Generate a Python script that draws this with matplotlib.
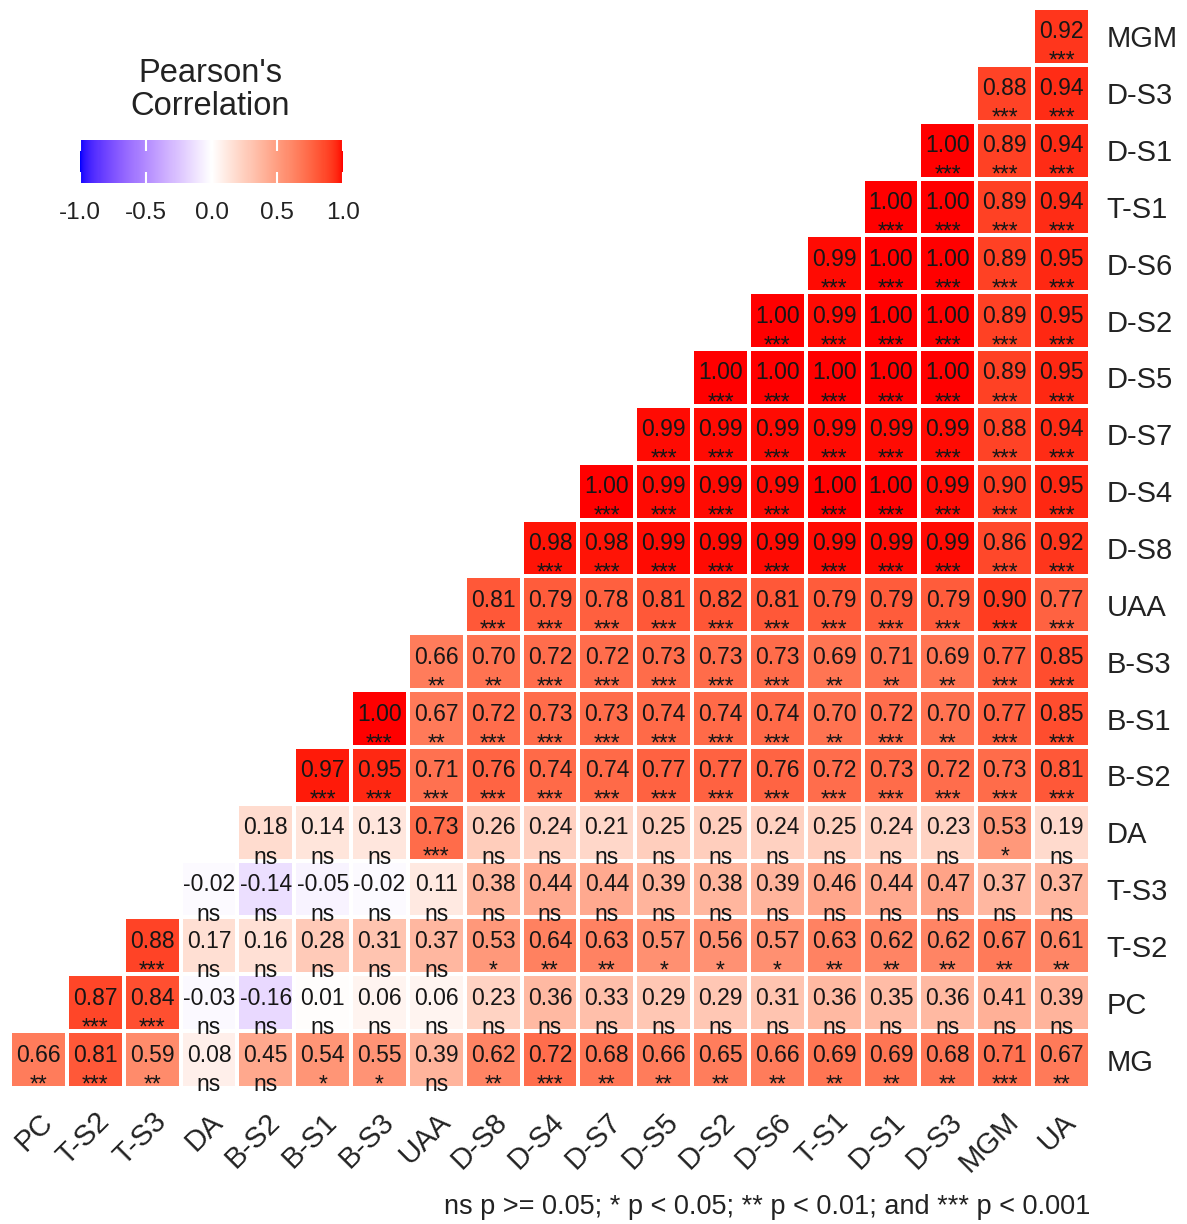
import numpy as np
import matplotlib
matplotlib.use("Agg")
import matplotlib.pyplot as plt
from matplotlib.colors import ListedColormap, Normalize
from matplotlib.cm import ScalarMappable

plt.rcParams['font.family'] = ['Liberation Sans', 'DejaVu Sans']

# ---------------- data ----------------
col_vars = ["PC", "T-S2", "T-S3", "DA", "B-S2", "B-S1", "B-S3", "UAA", "D-S8", "D-S4",
            "D-S7", "D-S5", "D-S2", "D-S6", "T-S1", "D-S1", "D-S3", "MGM", "UA"]
row_vars = ["MG", "PC", "T-S2", "T-S3", "DA", "B-S2", "B-S1", "B-S3", "UAA", "D-S8",
            "D-S4", "D-S7", "D-S5", "D-S2", "D-S6", "T-S1", "D-S1", "D-S3", "MGM"]

# correlation values per row (row k starts at column k)
r_MG = [0.66, 0.81, 0.59, 0.08, 0.45, 0.54, 0.55, 0.39, 0.62, 0.72, 0.68, 0.66, 0.65, 0.66, 0.69, 0.69, 0.68, 0.71, 0.67]
r_PC = [0.87, 0.84, -0.03, -0.16, 0.01, 0.06, 0.06, 0.23, 0.36, 0.33, 0.29, 0.29, 0.31, 0.36, 0.35, 0.36, 0.41, 0.39]
r_TS2 = [0.88, 0.17, 0.16, 0.28, 0.31, 0.37, 0.53, 0.64, 0.63, 0.57, 0.56, 0.57, 0.63, 0.62, 0.62, 0.67, 0.61]
r_TS3 = [-0.02, -0.14, -0.05, -0.02, 0.11, 0.38, 0.44, 0.44, 0.39, 0.38, 0.39, 0.46, 0.44, 0.47, 0.37, 0.37]
r_DA = [0.18, 0.14, 0.13, 0.73, 0.26, 0.24, 0.21, 0.25, 0.25, 0.24, 0.25, 0.24, 0.23, 0.53, 0.19]
r_BS2 = [0.97, 0.95, 0.71, 0.76, 0.74, 0.74, 0.77, 0.77, 0.76, 0.72, 0.73, 0.72, 0.73, 0.81]
r_BS1 = [1.00, 0.67, 0.72, 0.73, 0.73, 0.74, 0.74, 0.74, 0.70, 0.72, 0.70, 0.77, 0.85]
r_BS3 = [0.66, 0.70, 0.72, 0.72, 0.73, 0.73, 0.73, 0.69, 0.71, 0.69, 0.77, 0.85]
r_UAA = [0.81, 0.79, 0.78, 0.81, 0.82, 0.81, 0.79, 0.79, 0.79, 0.90, 0.77]
r_DS8 = [0.98, 0.98, 0.99, 0.99, 0.99, 0.99, 0.99, 0.99, 0.86, 0.92]
r_DS4 = [1.00, 0.99, 0.99, 0.99, 1.00, 1.00, 0.99, 0.90, 0.95]
r_DS7 = [0.99, 0.99, 0.99, 0.99, 0.99, 0.99, 0.88, 0.94]
r_DS5 = [1.00, 1.00, 1.00, 1.00, 1.00, 0.89, 0.95]
r_DS2 = [1.00, 0.99, 1.00, 1.00, 0.89, 0.95]
r_DS6 = [0.99, 1.00, 1.00, 0.89, 0.95]
r_TS1 = [1.00, 1.00, 0.89, 0.94]
r_DS1 = [1.00, 0.89, 0.94]
r_DS3 = [0.88, 0.94]
r_MGM = [0.92]

# significance labels per row
s_MG = ["**", "***", "**", "ns", "ns", "*", "*", "ns", "**", "***", "**", "**", "**", "**", "**", "**", "**", "***", "**"]
s_PC = ["***", "***"] + ["ns"] * 16
s_TS2 = ["***", "ns", "ns", "ns", "ns", "ns", "*", "**", "**", "*", "*", "*", "**", "**", "**", "**", "**"]
s_TS3 = ["ns"] * 16
s_DA = ["ns", "ns", "ns", "***", "ns", "ns", "ns", "ns", "ns", "ns", "ns", "ns", "ns", "*", "ns"]
s_BS2 = ["***"] * 14
s_BS1 = ["***", "**", "***", "***", "***", "***", "***", "***", "**", "***", "**", "***", "***"]
s_BS3 = ["**", "**", "***", "***", "***", "***", "***", "**", "**", "**", "***", "***"]
s_UAA = ["***"] * 11
s_DS8 = ["***"] * 10
s_DS4 = ["***"] * 9
s_DS7 = ["***"] * 8
s_DS5 = ["***"] * 7
s_DS2 = ["***"] * 6
s_DS6 = ["***"] * 5
s_TS1 = ["***"] * 4
s_DS1 = ["***"] * 3
s_DS3 = ["***"] * 2
s_MGM = ["***"]

r_rows = [r_MG, r_PC, r_TS2, r_TS3, r_DA, r_BS2, r_BS1, r_BS3, r_UAA, r_DS8,
          r_DS4, r_DS7, r_DS5, r_DS2, r_DS6, r_TS1, r_DS1, r_DS3, r_MGM]
s_rows = [s_MG, s_PC, s_TS2, s_TS3, s_DA, s_BS2, s_BS1, s_BS3, s_UAA, s_DS8,
          s_DS4, s_DS7, s_DS5, s_DS2, s_DS6, s_TS1, s_DS1, s_DS3, s_MGM]

caption = "ns p >= 0.05; * p < 0.05; ** p < 0.01; and *** p < 0.001"

# ---------------- colormap (Lab interpolation like ggplot2 gradient2) ----------------
def srgb_to_lab(c):
    c = np.asarray(c, float)
    lin = np.where(c <= 0.04045, c / 12.92, ((c + 0.055) / 1.055) ** 2.4)
    M = np.array([[0.4124564, 0.3575761, 0.1804375],
                  [0.2126729, 0.7151522, 0.0721750],
                  [0.0193339, 0.1191920, 0.9503041]])
    xyz = M @ lin
    wp = np.array([0.95047, 1.0, 1.08883])
    t = xyz / wp
    f = np.where(t > (6 / 29) ** 3, np.cbrt(t), t / (3 * (6 / 29) ** 2) + 4 / 29)
    return np.array([116 * f[1] - 16, 500 * (f[0] - f[1]), 200 * (f[1] - f[2])])

def lab_to_srgb(lab):
    L, a, b = lab
    fy = (L + 16) / 116
    fx = fy + a / 500
    fz = fy - b / 200
    d = 6 / 29
    def finv(f):
        return np.where(f > d, f ** 3, 3 * d * d * (f - 4 / 29))
    wp = np.array([0.95047, 1.0, 1.08883])
    xyz = np.array([finv(fx), finv(fy), finv(fz)]) * wp
    Minv = np.array([[3.2404542, -1.5371385, -0.4985314],
                     [-0.9692660, 1.8760108, 0.0415560],
                     [0.0556434, -0.2040259, 1.0572252]])
    lin = Minv @ xyz
    lin = np.clip(lin, 0, 1)
    c = np.where(lin <= 0.0031308, 12.92 * lin, 1.055 * lin ** (1 / 2.4) - 0.055)
    return np.clip(c, 0, 1)

lab_blue = srgb_to_lab([0, 0, 1])
lab_white = srgb_to_lab([1, 1, 1])
lab_red = srgb_to_lab([1, 0, 0])
cols = []
for t in np.linspace(-1, 1, 256):
    if t < 0:
        lab = lab_white + (lab_blue - lab_white) * (-t)
    else:
        lab = lab_white + (lab_red - lab_white) * t
    cols.append(lab_to_srgb(lab))
cmap = ListedColormap(cols)
cmap.set_bad((1, 1, 1, 0))
norm = Normalize(vmin=-1, vmax=1)

# ---------------- figure ----------------
W, H = 1187, 1224
fig = plt.figure(figsize=(W / 100, H / 100), dpi=100)
ax = fig.add_axes([10 / W, 1 - 1088 / H, 1080 / W, 1080 / H])

n = len(col_vars)
mat = np.full((len(row_vars), n), np.nan)
for k, vals in enumerate(r_rows):
    for j, v in enumerate(vals):
        mat[k, k + j] = v
masked = np.ma.masked_invalid(mat)

xe = np.arange(n + 1) - 0.5
ye = np.arange(len(row_vars) + 1) - 0.5
ax.pcolormesh(xe, ye, masked, cmap=cmap, norm=norm, edgecolors='white', linewidth=1.5)

txt_col = '#161616'
for k, (vals, sigs) in enumerate(zip(r_rows, s_rows)):
    for j, (v, s) in enumerate(zip(vals, sigs)):
        x = k + j
        ax.text(x, k - 0.035, f"{v:.2f}", ha='center', va='baseline', fontsize=16.5, color=txt_col)
        ax.text(x, k - 0.555, s, ha='center', va='baseline', fontsize=16.5, color=txt_col)

ax.set_xlim(-0.5, n - 0.5)
ax.set_ylim(-0.5, len(row_vars) - 0.5)
ax.set_xticks(range(n))
ax.set_xticklabels(col_vars, rotation=45, ha='right', va='top', rotation_mode='anchor',
                   fontsize=21, color='#222222')
ax.set_yticks(range(len(row_vars)))
ax.set_yticklabels(row_vars, fontsize=21, color='#222222')
ax.yaxis.tick_right()
ax.tick_params(axis='both', length=0)
ax.tick_params(axis='y', pad=12)
ax.tick_params(axis='x', pad=14)
for sp in ax.spines.values():
    sp.set_visible(False)

# ---------------- legend ----------------
cax = fig.add_axes([80 / W, 1 - 183 / H, 263 / W, 43 / H])
cb = fig.colorbar(ScalarMappable(norm=norm, cmap=cmap), cax=cax, orientation='horizontal',
                  ticks=[-1.0, -0.5, 0.0, 0.5, 1.0])
cb.outline.set_visible(False)
cb.ax.set_xticklabels(["-1.0", "-0.5", "0.0", "0.5", "1.0"], fontsize=17.5, color='#222222')
cb.ax.tick_params(axis='x', direction='in', length=8, width=1.5, color='white', pad=14,
                  top=True, bottom=True)
fig.text(210 / W, 1 - 90 / H, "Pearson's\nCorrelation", ha='center', va='center',
         fontsize=23.5, color='#222222', linespacing=1.1)

fig.text(1090 / W, 1 - 1207 / H, caption, ha='right', va='center', fontsize=19.5, color='#222222')

fig.savefig("out.png", dpi=100)
